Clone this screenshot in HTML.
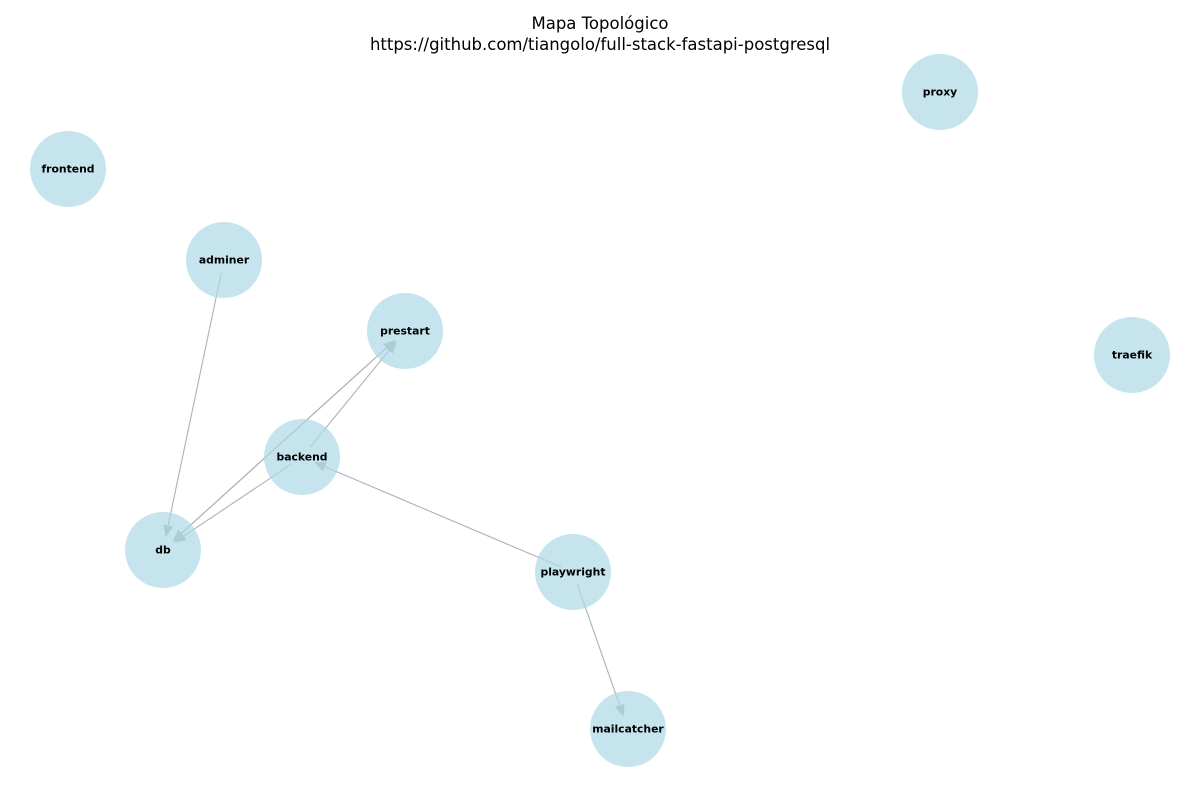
<!DOCTYPE html>
<html><head><meta charset="utf-8"><style>
html,body{margin:0;padding:0;background:#fff;}
svg{display:block;}
</style></head><body>
<svg id="chart" width="1200" height="800" viewBox="0 0 1200 800" xmlns="http://www.w3.org/2000/svg">
<text x="600" y="29" text-anchor="middle" font-family="DejaVu Sans, sans-serif" font-size="16.5">Mapa Topológico</text>
<text x="600" y="50" text-anchor="middle" font-family="DejaVu Sans, sans-serif" font-size="16.5">https://github.com/tiangolo/full-stack-fastapi-postgresql</text>
<g id="edges"></g>
<g id="nodes"></g>
</svg>
<script>
const nodeNames = ["proxy","frontend","adminer","prestart","traefik","backend","db","playwright","mailcatcher"];
const nodeX = [940,68,224,405,1132,302,163,573,628];
const nodeY = [92,169,260,331,355,457,550,572,729];
const edgeSources = ["adminer","backend","db","prestart","backend","playwright","playwright"];
const edgeTargets = ["db","prestart","prestart","db","db","backend","mailcatcher"];

const NS="http://www.w3.org/2000/svg";
const eg=document.getElementById('edges'), ng=document.getElementById('nodes');
const idx=n=>nodeNames.indexOf(n);
const shrink=13, hl=12, hw=5;
for(let i=0;i<edgeSources.length;i++){
  const a=idx(edgeSources[i]), b=idx(edgeTargets[i]);
  const x1=nodeX[a],y1=nodeY[a],x2=nodeX[b],y2=nodeY[b];
  const dx=x2-x1,dy=y2-y1,L=Math.hypot(dx,dy),ux=dx/L,uy=dy/L;
  const sx=x1+ux*shrink, sy=y1+uy*shrink, tx=x2-ux*shrink, ty=y2-uy*shrink;
  const bx=tx-ux*hl, by=ty-uy*hl;
  const line=document.createElementNS(NS,'line');
  
  
  line.setAttribute('x1',sx);line.setAttribute('y1',sy);line.setAttribute('x2',bx);line.setAttribute('y2',by);
  line.setAttribute('stroke','#b0b0b0');line.setAttribute('stroke-width','1.1');
  eg.appendChild(line);
  const head=document.createElementNS(NS,'polygon');
  
  
  head.setAttribute('points',`${tx},${ty} ${bx-uy*hw},${by+ux*hw} ${bx+uy*hw},${by-ux*hw}`);
  head.setAttribute('fill','#b0b0b0');
  eg.appendChild(head);
}
for(let i=0;i<nodeNames.length;i++){
  const c=document.createElementNS(NS,'circle');
  
  
  c.setAttribute('cx',nodeX[i]);c.setAttribute('cy',nodeY[i]);c.setAttribute('r',38);
  c.setAttribute('fill','#add8e6');c.setAttribute('fill-opacity','0.7');
  ng.appendChild(c);
  const t=document.createElementNS(NS,'text');
  
  
  t.setAttribute('x',nodeX[i]);t.setAttribute('y',nodeY[i]+3.5);
  t.setAttribute('text-anchor','middle');
  t.setAttribute('font-family','DejaVu Sans, sans-serif');
  t.setAttribute('font-size','10.8');t.setAttribute('font-weight','bold');
  t.textContent=nodeNames[i];
  ng.appendChild(t);
}
</script>
</body></html>
